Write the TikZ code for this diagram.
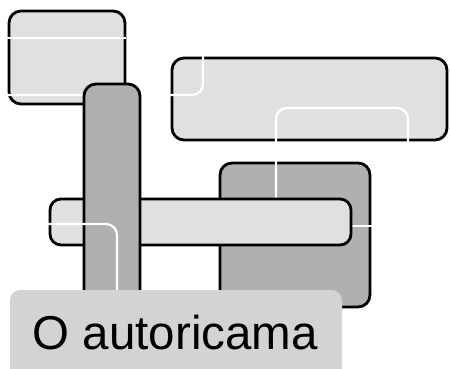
\documentclass[tikz,border=0pt]{standalone}
\usepackage{fontspec}
\setmainfont{Liberation Sans}
\definecolor{lightbox}{RGB}{224,224,224}
\definecolor{darkbox}{RGB}{176,176,176}
\definecolor{labelbg}{RGB}{211,211,211}
\tikzset{
  panel/.style={draw=black, line width=2.8pt, rounded corners=12pt, inner sep=0pt, outer sep=0pt},
  lightpanel/.style={panel, fill=lightbox},
  darkpanel/.style={panel, fill=darkbox},
  wline/.style={draw=white, line width=2.2pt, rounded corners=11pt},
}
\begin{document}
\begin{tikzpicture}[x=1pt, y=-1pt]
\useasboundingbox (0,0) rectangle (450,369);
\clip (0,0) rectangle (450,369);
% boxes
\node[lightpanel, minimum width=116pt, minimum height=93pt] (A) at (67,57.5) {};
\node[lightpanel, minimum width=275pt, minimum height=82pt] (C) at (309.5,99) {};
\node[darkpanel, minimum width=150pt, minimum height=144pt] (D) at (295,235) {};
% white lines (under E and B)
\coordinate (w1a) at (7,38);
\coordinate (w1b) at (126,38);
\draw[wline] (w1a) -- (w1b);
\coordinate (w2a) at (7,95);
\coordinate (w2b) at (203,95);
\coordinate (w2c) at (203,56);
\draw[wline] (w2a) -- (w2b) -- (w2c);
\coordinate (w4a) at (276,200);
\coordinate (w4b) at (276,108);
\coordinate (w4c) at (408,108);
\coordinate (w4d) at (408,142);
\draw[wline] (w4a) -- (w4b) -- (w4c) -- (w4d);
\coordinate (w5a) at (340,226);
\coordinate (w5b) at (372,226);
\draw[wline] (w5a) -- (w5b);
\node[lightpanel, rounded corners=11pt, minimum width=301pt, minimum height=46pt] (E) at (200.5,222) {};
\node[darkpanel, minimum width=56pt, minimum height=236pt] (B) at (112,202) {};
% white line over B
\coordinate (w3a) at (47,224);
\coordinate (w3b) at (117,224);
\coordinate (w3c) at (117,295);
\draw[wline] (w3a) -- (w3b) -- (w3c);
% label
\node[fill=labelbg, rounded corners=10pt, inner sep=0pt, minimum width=332pt, minimum height=95pt] (L) at (176,337.5) {};
\node[anchor=base west, inner sep=0pt, font=\fontsize{47.5}{56}\selectfont] (T) at (32.5,349) {O autoricama};
\end{tikzpicture}
\end{document}
